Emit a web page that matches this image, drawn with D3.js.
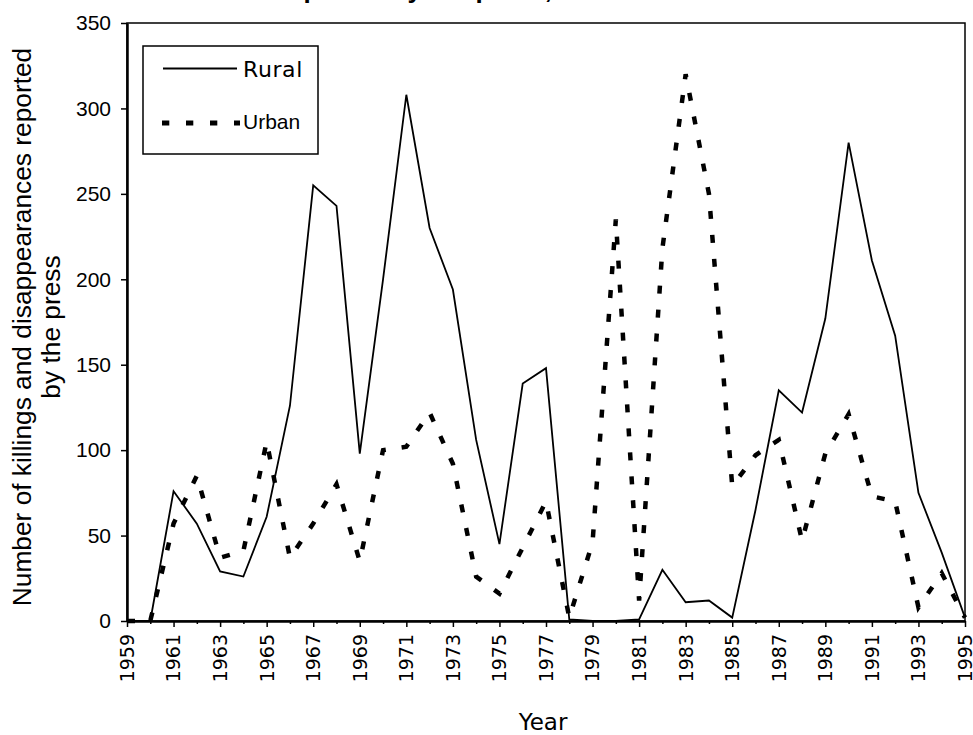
<!DOCTYPE html>
<html>
<head>
<meta charset="utf-8">
<script src="https://cdnjs.cloudflare.com/ajax/libs/d3/7.8.5/d3.min.js"></script>
<style>
  body { margin: 0; background: #fff; }
  svg { display: block; }
</style>
</head>
<body>
<div id="chart"></div>
<script>
var years = [1959,1960,1961,1962,1963,1964,1965,1966,1967,1968,1969,1970,1971,1972,1973,1974,1975,1976,1977,
             1978,1979,1980,1981,1982,1983,1984,1985,1986,1987,1988,1989,1990,1991,1992,1993,1994,1995];
var rural = [0,0,76,57,29,26,61,126,255,243,98,200,308,230,194,106,45,139,148,
             1,0,0,1,30,11,12,2,65,135,122,177,280,211,167,75,40,2];
var urban = [0,0,57,85,37,41,105,37,57,80,35,100,102,122,92,26,16,43,70,
             2,46,235,12,218,320,250,79,97,106,47,98,121,73,70,8,28,2];
var yTicks = [0,50,100,150,200,250,300,350];
var xLabels = [1959,1961,1963,1965,1967,1969,1971,1973,1975,1977,1979,1981,1983,1985,1987,1989,1991,1993,1995];

var width = 973, height = 735;
var pLeft = 127, pRight = 965, pTop = 23, pBottom = 621;

var svg = d3.select('#chart').append('svg')
    .attr('width', width)
    .attr('height', height);

var x = d3.scaleLinear().domain([1959, 1995]).range([pLeft, pRight]);
var y = d3.scaleLinear().domain([0, 350]).range([pBottom, pTop]);

// title, mostly cut off at the top of the picture
svg.append('text')
    .attr('x', 185).attr('y', -2.5)
    .style('font-family', 'Liberation Sans, Arial, sans-serif')
    .style('font-weight', 'bold')
    .style('font-size', '26px')
    .text('Deaths reported by the press, 1959-1995');

// frame
svg.append('rect')
    .attr('x', pLeft).attr('y', pTop)
    .attr('width', pRight - pLeft).attr('height', pBottom - pTop)
    .attr('fill', 'none').attr('stroke', '#000').attr('stroke-width', 1.5);

// y axis
var yAxis = svg.append('g').attr('transform', 'translate(' + pLeft + ',0)')
    .call(d3.axisLeft(y).tickValues(yTicks).tickSize(6).tickSizeOuter(0));
yAxis.select('.domain').attr('stroke-width', 2.5);
yAxis.selectAll('.tick line').attr('stroke-width', 1.5);
yAxis.selectAll('text')
    .attr('x', -16)
    .style('font-family', 'Liberation Sans, Arial, sans-serif')
    .style('font-size', '21px')
    .attr('fill', '#000');

// x axis
var xAxis = svg.append('g').attr('transform', 'translate(0,' + pBottom + ')')
    .call(d3.axisBottom(x).tickValues(years).tickSize(6).tickSizeOuter(0).tickFormat(''));
xAxis.select('.domain').attr('stroke-width', 2.5);
xAxis.selectAll('.tick line')
    .attr('stroke-width', 1.5)
    .attr('y2', function(d) { return xLabels.indexOf(d) >= 0 ? 6 : 3; });

svg.append('g').selectAll('text')
    .data(xLabels)
    .enter().append('text')
    .attr('transform', function(d) { return 'translate(' + x(d) + ',634) rotate(-90)'; })
    .attr('text-anchor', 'end')
    .attr('dy', '0.36em')
    .style('font-family', 'DejaVu Sans, sans-serif')
    .style('font-size', '19px')
    .text(function(d) { return d; });

// axis titles
svg.append('text')
    .attr('x', 543).attr('y', 730)
    .attr('text-anchor', 'middle')
    .style('font-family', 'DejaVu Sans, sans-serif')
    .style('font-size', '23px')
    .text('Year');

var yTitle = svg.append('text')
    .attr('transform', 'translate(0,' + ((pTop + pBottom) / 2 + 5) + ') rotate(-90)')
    .attr('text-anchor', 'middle')
    .style('font-family', 'Liberation Sans, Arial, sans-serif')
    .style('font-size', '26.3px');
yTitle.append('tspan').attr('x', 0).attr('y', 31).text('Number of killings and disappearances reported');
yTitle.append('tspan').attr('x', 0).attr('y', 60).text('by the press');

// lines
var line = function(vals) {
  return d3.line()
      .x(function(d, i) { return x(years[i]); })
      .y(function(d) { return y(d); })(vals);
};

svg.append('path')
    .attr('d', line(rural))
    .attr('fill', 'none')
    .attr('stroke', '#000')
    .attr('stroke-width', 1.8);

svg.append('path')
    .attr('d', line(urban))
    .attr('fill', 'none')
    .attr('stroke', '#000')
    .attr('stroke-width', 4.5)
    .attr('stroke-dasharray', '8,16');

// legend
var lg = svg.append('g');
lg.append('rect')
    .attr('x', 143).attr('y', 46).attr('width', 175).attr('height', 108)
    .attr('fill', '#fff').attr('stroke', '#000').attr('stroke-width', 1.5);
lg.append('line')
    .attr('x1', 163).attr('x2', 237).attr('y1', 68.5).attr('y2', 68.5)
    .attr('stroke', '#000').attr('stroke-width', 1.8);
lg.append('text')
    .attr('x', 243).attr('y', 77)
    .style('font-family', 'DejaVu Sans, sans-serif')
    .style('font-size', '22px')
    .style('letter-spacing', '0.6px')
    .text('Rural');
lg.append('line')
    .attr('x1', 162).attr('x2', 240).attr('y1', 123).attr('y2', 123)
    .attr('stroke', '#000').attr('stroke-width', 5)
    .attr('stroke-dasharray', '7.3,16.7');
lg.append('text')
    .attr('x', 243).attr('y', 129)
    .style('font-family', 'Liberation Sans, Arial, sans-serif')
    .style('font-size', '21px')
    .text('Urban');
</script>
</body>
</html>
